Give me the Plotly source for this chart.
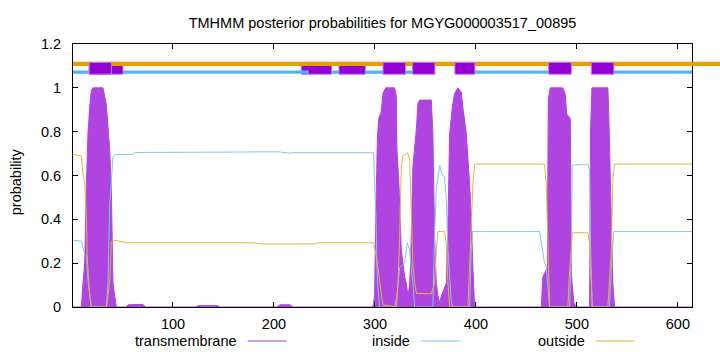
import plotly.graph_objects as go

TITLE = "TMHMM posterior probabilities for MGYG000003517_00895"
SEQ_RANGE = [1, 614]
X_TICKS = [100, 200, 300, 400, 500, 600]
Y_TICKS = [0, 0.2, 0.4, 0.6, 0.8, 1.0, 1.2]
Y_TICK_TEXT = ["0", "0.2", "0.4", "0.6", "0.8", "1", "1.2"]
SERIES_NAMES = ["transmembrane", "inside", "outside"]

# (position, probability)
transmembrane_pts = [
    (1, 0), (9.3, 0), (10.9, 0.11), (12.6, 0.2), (14.3, 0.56), (15.8, 0.79), (17.5, 0.91),
    (19.2, 0.99), (20.8, 1.0), (30.7, 1.0), (34.1, 0.92), (35.6, 0.81), (37.3, 0.72),
    (39.0, 0.53), (40.6, 0.11), (42.3, 0.05), (44.0, 0),
    (53, 0), (56, 0.01), (70, 0.012), (73, 0),
    (122, 0), (125, 0.006), (144, 0.006), (147, 0),
    (203, 0), (206, 0.01), (216, 0.01), (219, 0),
    (298, 0), (299.7, 0.05), (300.7, 0.38), (302.4, 0.76), (303.7, 0.86), (306.3, 0.89),
    (307.9, 0.974), (310.6, 1.0), (319.5, 1.0), (321.2, 0.96), (321.8, 0.72), (323.8, 0.56),
    (326.1, 0.26), (329.4, 0.14), (331.1, 0.108), (332.7, 0.05), (334.4, 0.1), (335.3, 0.2),
    (337.6, 0.64), (341.0, 0.81), (342.6, 0.93), (344.3, 0.944), (355.8, 0.944), (357.4, 0.79),
    (359.1, 0.32), (360.8, 0.108), (362.4, 0.05), (364.1, 0.02), (365.7, 0.05), (370.7, 0.108),
    (372.3, 0.38), (374.0, 0.79), (376.6, 0.91), (378.9, 0.974), (382.2, 1.0), (385.5, 0.98),
    (387.1, 0.91), (390.5, 0.79), (393.8, 0.56), (395.4, 0.41), (397.0, 0.18), (398.7, 0),
    (464.8, 0), (466.3, 0.138), (470.7, 0.18), (471.7, 0.95), (473.7, 1.0), (486.1, 1.0),
    (488.5, 0.97), (490.0, 0.88), (493.5, 0.86), (494.5, 0.15), (497.0, 0.02), (499.4, 0),
    (512.6, 0), (513.6, 0.82), (514.9, 1.0), (530.7, 1.0), (531.7, 0.86), (532.4, 0.72),
    (534.1, 0.26), (535.6, 0.108), (537.3, 0), (614, 0),
]

inside_pts = [
    (1, 0.305), (9.3, 0.30), (12.6, 0.24), (14.3, 0.235), (15.8, 0.12), (19.2, 0.0),
    (34.1, 0.0), (35.6, 0.1), (37.3, 0.46), (39.0, 0.56), (40.6, 0.685), (42.3, 0.695),
    (60, 0.696), (63, 0.705), (200, 0.707), (205, 0.708), (215, 0.702), (220, 0.704),
    (298.6, 0.704), (299.7, 0.6), (301.0, 0.41), (302.4, 0.12), (304.7, 0.0), (319.5, 0.0),
    (321.8, 0.05), (324.5, 0.18), (329.4, 0.2), (332.1, 0.293), (334.4, 0.26), (336.0, 0.18),
    (337.6, 0.11), (339.3, 0.0), (357.4, 0.0), (359.1, 0.337), (360.8, 0.535), (364.1, 0.647),
    (366.3, 0.61), (369.0, 0.59), (370.7, 0.49), (372.3, 0.26), (374.0, 0.11), (375.7, 0.02),
    (377.2, 0.0), (393.8, 0.0), (395.4, 0.26), (397.0, 0.345), (463.1, 0.345), (466.3, 0.26),
    (468.0, 0.2), (469.7, 0.18), (471.3, 0.108), (473.0, 0.0), (492.8, 0.0), (494.5, 0.26),
    (495.4, 0.647), (510.9, 0.652), (512.6, 0.62), (513.6, 0.26), (515.2, 0.0), (532.4, 0.0),
    (534.1, 0.18), (535.6, 0.26), (536.6, 0.345), (614, 0.345),
]

outside_pts = [
    (1, 0.696), (9.3, 0.69), (11, 0.6), (12.6, 0.564), (14.3, 0.41), (15.0, 0.24), (17.5, 0.05),
    (19.2, 0.0), (34.1, 0.0), (35.6, 0.055), (37.3, 0.11), (39.0, 0.3), (42.3, 0.305),
    (53.9, 0.293), (180, 0.293), (185, 0.288), (240, 0.288), (245, 0.293), (298.6, 0.293),
    (301.4, 0.23), (304.7, 0.12), (307.9, 0.01), (321.2, 0.0), (322.8, 0.108), (324.5, 0.32),
    (326.1, 0.64), (327.7, 0.69), (332.7, 0.704), (334.4, 0.67), (336.0, 0.41), (337.6, 0.2),
    (339.3, 0.11), (341.0, 0.062), (355.8, 0.06), (357.4, 0.08), (359.1, 0.108), (360.8, 0.26),
    (362.4, 0.345), (369.0, 0.345), (370.7, 0.29), (372.3, 0.11), (374.0, 0.0), (392.1, 0.0),
    (395.4, 0.41), (397.0, 0.56), (398.7, 0.652), (468.0, 0.652), (469.7, 0.56), (471.3, 0.26),
    (473.0, 0.0), (491.1, 0.0), (492.1, 0.12), (494.5, 0.26), (495.4, 0.339), (510.9, 0.339),
    (512.6, 0.29), (514.3, 0.11), (515.2, 0.0), (530.7, 0.0), (532.4, 0.108), (534.1, 0.26),
    (535.6, 0.59), (537.3, 0.652), (614, 0.652),
]

# topology band segments (sequence positions)
inside_band = [(1, 16.8), (50.5, 234.4), (257.1, 264.4), (290.5, 307.9), (330.4, 337.3),
               (399, 472), (536.6, 614)]
tm_band_under = [(17, 50.5), (227, 257.1), (264.4, 290.5)]
tm_band_over = [(17, 39), (308, 330.4), (337.3, 359.4), (379.2, 399), (472, 494.5), (514.3, 536.6)]

PURPLE = "#9400d3"
TM_FILL = "rgb(176,68,224)"
BLUE = "#56b4e9"
ORANGE = "#e69f00"
FONT = "Liberation Sans"
FS = 14.5

def unzip(pts):
    return [p[0] for p in pts], [p[1] for p in pts]

fig = go.Figure()
tx, ty = unzip(transmembrane_pts)
fig.add_trace(go.Scatter(x=tx, y=ty, mode="lines", fill="tozeroy", fillcolor=TM_FILL,
                         line=dict(color=TM_FILL, width=1), name=SERIES_NAMES[0], showlegend=False))
ix, iy = unzip(inside_pts)
fig.add_trace(go.Scatter(x=ix, y=iy, mode="lines", line=dict(color="#80c6ee", width=1),
                         name=SERIES_NAMES[1], showlegend=False))
ox, oy = unzip(outside_pts)
fig.add_trace(go.Scatter(x=ox, y=oy, mode="lines", line=dict(color="#ecb23c", width=1),
                         name=SERIES_NAMES[2], showlegend=False))

shapes = []
for a, b in tm_band_under:
    shapes.append(dict(type="rect", xref="x", yref="y", x0=a, x1=b, y0=1.062, y1=1.116,
                       fillcolor=PURPLE, line=dict(color="rgb(196,120,232)", width=1), layer="above"))
for a, b in inside_band:
    shapes.append(dict(type="rect", xref="x", yref="y", x0=a, x1=b, y0=1.064, y1=1.079,
                       fillcolor=BLUE, line=dict(width=0), layer="above"))
shapes.append(dict(type="rect", xref="paper", yref="y", x0=0, x1=1.08, y0=1.100, y1=1.119,
                   fillcolor=ORANGE, line=dict(width=0), layer="above"))
for a, b in tm_band_over:
    shapes.append(dict(type="rect", xref="x", yref="y", x0=a, x1=b, y0=1.062, y1=1.116,
                       fillcolor=PURPLE, line=dict(color="rgb(196,120,232)", width=1), layer="above"))

# legend (gnuplot style: label then sample)
legend_items = [
    (SERIES_NAMES[0], 0.2677, 0.2822, 0.3453, "#a040dc"),
    (SERIES_NAMES[1], 0.5472, 0.5617, 0.6264, "#80c6ee"),
    (SERIES_NAMES[2], 0.8299, 0.8444, 0.9074, "#ecb23c"),
]
annotations = []
LEG_Y = -0.1293
for name, tx_end, l0, l1, col in legend_items:
    annotations.append(dict(text=name, xref="paper", yref="paper", x=tx_end, y=LEG_Y,
                            xanchor="right", yanchor="middle", showarrow=False,
                            font=dict(family=FONT, size=FS, color="black")))
    shapes.append(dict(type="line", xref="paper", yref="paper", x0=l0, x1=l1, y0=LEG_Y, y1=LEG_Y,
                       line=dict(color=col, width=1)))

annotations.append(dict(text="probability", xref="paper", yref="paper", x=-0.0926, y=0.477,
                        textangle=-90, xanchor="center", yanchor="middle", showarrow=False,
                        font=dict(family=FONT, size=FS, color="black")))

fig.update_layout(
    width=720, height=352,
    margin=dict(l=73, r=28, t=44, b=45),
    paper_bgcolor="white", plot_bgcolor="white",
    title=dict(text=TITLE, x=(73 + 692) / 2 / 720, xanchor="center", y=1 - 22.7 / 352,
               yanchor="middle", yref="container", font=dict(family=FONT, size=FS, color="black")),
    shapes=shapes, annotations=annotations,
    showlegend=False,
    font=dict(family=FONT, size=FS, color="black"),
)
fig.update_xaxes(range=SEQ_RANGE, tickvals=X_TICKS, ticks="inside", ticklen=5, tickcolor="black",
                 showline=True, linecolor="black", linewidth=1, mirror="ticks", showgrid=False,
                 zeroline=False, ticklabelstandoff=4, tickfont=dict(family=FONT, size=FS))
fig.update_yaxes(range=[0, 1.2], tickvals=Y_TICKS, ticktext=Y_TICK_TEXT, ticks="inside", ticklen=5,
                 tickcolor="black", showline=True, linecolor="black", linewidth=1, mirror="ticks",
                 showgrid=False, zeroline=False, ticklabelstandoff=8,
                 tickfont=dict(family=FONT, size=FS))

fig.write_html("out.html")
